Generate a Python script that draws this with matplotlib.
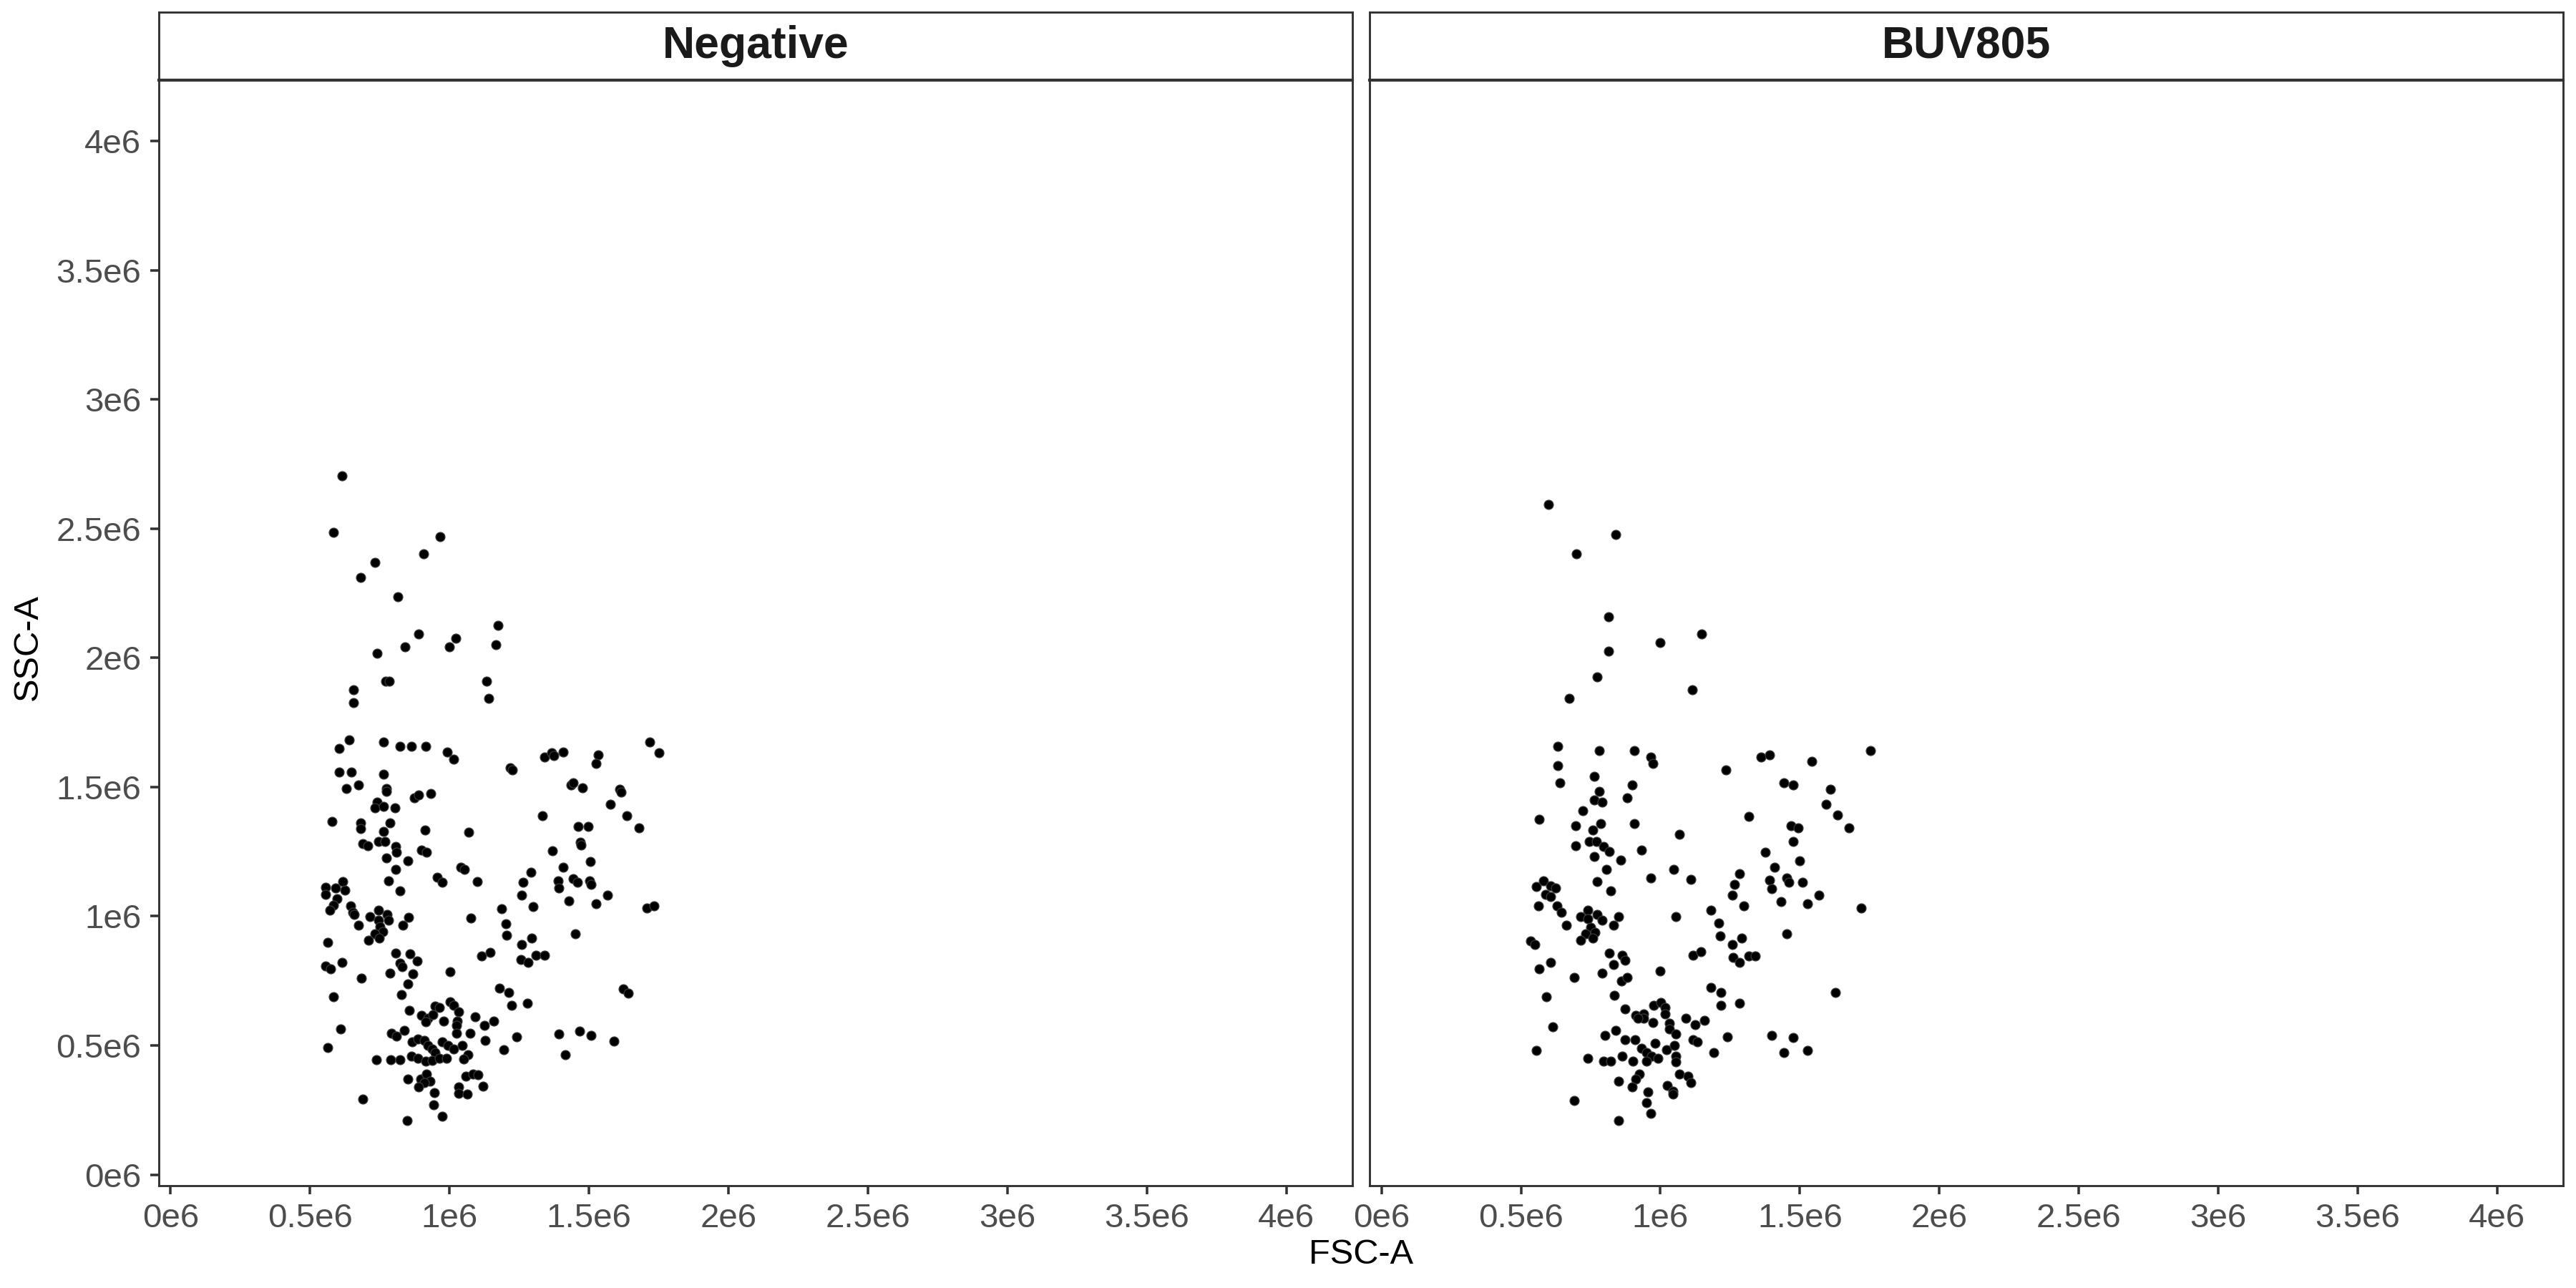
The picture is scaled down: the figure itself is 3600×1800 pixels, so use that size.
import matplotlib
matplotlib.use("Agg")
import matplotlib.pyplot as plt

plt.rcParams['font.family'] = ['Liberation Sans', 'DejaVu Sans']

# ---------------- data (values in units of 1e6) ----------------
panel_titles = ["Negative", "BUV805"]
tick_values = [0, 0.5e6, 1e6, 1.5e6, 2e6, 2.5e6, 3e6, 3.5e6, 4e6]
tick_labels = ["0e6", "0.5e6", "1e6", "1.5e6", "2e6", "2.5e6", "3e6", "3.5e6", "4e6"]
axis_limits = (-41943, 4236247)

neg_fsc = [
    0.615, 0.583, 0.966, 0.908, 0.732, 0.682, 0.816, 1.173, 0.890, 1.024, 0.841, 0.999, 1.167, 0.741,
    0.772, 0.784, 1.133, 0.657, 0.657, 1.141, 0.640, 0.606, 0.765, 0.822, 0.865, 0.914, 0.992, 1.016,
    1.217, 1.226, 1.341, 1.367, 1.375, 1.407, 1.534, 1.525, 1.717, 1.751, 0.606, 0.649, 0.765, 0.673,
    0.631, 0.774, 0.774, 0.740, 0.732, 0.764, 0.806, 0.875, 0.890, 0.934, 1.435, 1.443, 1.477, 1.610,
    1.616, 1.577, 1.333, 1.636,
    1.069, 1.462, 1.498, 1.679, 1.469, 1.473, 1.368, 1.506, 1.041, 1.053, 1.407, 1.291, 1.264, 1.258,
    1.299, 1.389, 1.393, 1.443, 1.458, 1.503, 1.508, 1.427, 1.525, 1.567, 1.709, 1.734, 1.100, 1.076,
    1.187, 1.203, 1.205, 1.258, 1.296, 1.116, 1.147, 1.257, 1.283, 1.309, 1.341, 1.450, 1.180, 1.213,
    1.222, 1.280, 1.622, 1.640, 1.393, 1.466, 1.508, 1.590, 1.416, 1.242, 1.195,
    0.578, 0.682, 0.682, 0.786, 0.765, 0.912, 0.690, 0.707, 0.747, 0.769, 0.807, 0.811, 0.773, 0.852,
    0.901, 0.918, 0.807, 0.781, 0.822, 0.957, 0.975, 0.555, 0.557, 0.591, 0.617, 0.624, 0.596, 0.585,
    0.572, 0.645, 0.653, 0.658, 0.673, 0.716, 0.745, 0.776, 0.781, 0.747, 0.750, 0.762, 0.734, 0.749,
    0.711, 0.833, 0.854, 0.564, 0.807, 0.858,
    0.555, 0.574, 0.615, 0.685, 0.786, 0.824, 0.830, 0.884, 0.869, 0.850, 0.828, 1.003, 0.585, 0.611,
    0.564, 0.856, 0.948, 0.965, 1.003, 1.014, 1.032, 0.901, 0.922, 0.941, 0.914, 0.978, 1.029, 1.025,
    1.091, 1.126, 1.160, 1.025, 1.074, 0.793, 0.811, 0.837, 1.127, 0.867, 0.888, 0.910, 0.922, 0.939,
    0.948, 0.974, 0.995, 1.016, 1.046, 1.067, 1.050, 0.739, 0.790, 0.824, 0.863, 0.888, 0.914, 0.939,
    0.965, 0.989, 0.852, 0.897, 0.918, 0.931, 0.910, 0.890, 0.946, 0.944, 0.974, 0.848, 0.690, 1.059,
    1.085, 1.102, 1.033, 1.033, 1.063, 1.121,
]
neg_ssc = [
    2.705, 2.485, 2.469, 2.401, 2.369, 2.310, 2.235, 2.126, 2.093, 2.075, 2.043, 2.042, 2.051, 2.017,
    1.910, 1.910, 1.910, 1.877, 1.826, 1.844, 1.683, 1.649, 1.674, 1.658, 1.658, 1.658, 1.634, 1.608,
    1.574, 1.566, 1.617, 1.632, 1.622, 1.634, 1.625, 1.591, 1.675, 1.632, 1.559, 1.559, 1.550, 1.508,
    1.493, 1.495, 1.482, 1.442, 1.418, 1.425, 1.418, 1.459, 1.468, 1.476, 1.509, 1.516, 1.497, 1.490,
    1.480, 1.433, 1.390, 1.390,
    1.325, 1.347, 1.347, 1.342, 1.287, 1.275, 1.253, 1.212, 1.190, 1.182, 1.190, 1.170, 1.130, 1.082,
    1.036, 1.137, 1.109, 1.144, 1.132, 1.137, 1.123, 1.058, 1.049, 1.082, 1.032, 1.039, 1.134, 0.994,
    1.028, 0.970, 0.927, 0.891, 0.916, 0.846, 0.861, 0.832, 0.820, 0.848, 0.848, 0.932, 0.722, 0.705,
    0.656, 0.663, 0.718, 0.703, 0.544, 0.556, 0.539, 0.516, 0.465, 0.532, 0.484,
    1.368, 1.360, 1.339, 1.360, 1.327, 1.334, 1.281, 1.272, 1.288, 1.290, 1.270, 1.247, 1.226, 1.213,
    1.256, 1.247, 1.182, 1.136, 1.099, 1.150, 1.131, 1.113, 1.085, 1.108, 1.133, 1.102, 1.067, 1.044,
    1.022, 1.039, 1.016, 1.007, 0.965, 0.998, 1.022, 1.007, 0.984, 0.984, 0.961, 0.939, 0.933, 0.915,
    0.908, 0.965, 0.995, 0.899, 0.856, 0.854,
    0.807, 0.796, 0.822, 0.760, 0.779, 0.818, 0.804, 0.827, 0.776, 0.739, 0.696, 0.785, 0.687, 0.564,
    0.493, 0.635, 0.653, 0.647, 0.670, 0.656, 0.631, 0.616, 0.605, 0.619, 0.592, 0.594, 0.594, 0.578,
    0.610, 0.578, 0.594, 0.548, 0.548, 0.548, 0.536, 0.557, 0.518, 0.515, 0.524, 0.518, 0.499, 0.485,
    0.472, 0.513, 0.499, 0.485, 0.499, 0.465, 0.446, 0.444, 0.444, 0.444, 0.458, 0.450, 0.439, 0.441,
    0.450, 0.449, 0.370, 0.370, 0.388, 0.361, 0.356, 0.338, 0.317, 0.271, 0.225, 0.210, 0.293, 0.382,
    0.389, 0.386, 0.338, 0.315, 0.312, 0.341,
]

buv_fsc = [
    0.598, 0.840, 0.698, 0.815, 1.148, 0.999, 0.815, 0.774, 1.115, 0.672, 0.631, 0.782, 0.907, 0.966,
    0.974, 1.360, 1.392, 1.543, 1.752, 1.234, 0.631, 0.639, 0.764, 0.898, 1.442, 1.476, 1.610, 0.782,
    0.764, 0.790, 0.882, 1.594, 0.723, 1.635,
    0.565, 1.317, 1.468, 1.493, 1.677, 1.476, 1.376, 1.500, 1.409, 1.392, 1.400, 1.452, 1.460, 1.509,
    1.433, 1.526, 1.568, 1.719, 1.452, 1.284, 1.266, 1.259, 1.300, 1.182, 1.209, 1.215, 1.292, 1.259,
    1.261, 1.284, 1.316, 1.339, 1.284, 1.627, 1.400, 1.476, 1.442, 1.526, 0.565, 0.606, 0.590, 0.614,
    0.556,
    0.697, 0.787, 0.907, 0.757, 0.697, 0.744, 0.770, 0.796, 0.817, 0.763, 0.857, 0.932, 1.067, 0.806,
    1.048, 0.774, 0.965, 1.108, 0.823, 0.556, 0.580, 0.606, 0.625, 0.589, 0.607, 0.563, 0.629, 0.646,
    0.663, 0.740, 0.714, 0.740, 0.774, 0.791, 0.849, 0.831, 0.749, 0.766, 0.731, 0.714, 0.757, 1.056,
    0.535, 0.549, 0.817, 0.864, 1.116, 1.146,
    0.873, 0.831, 0.690, 0.791, 1.000, 0.860, 0.881, 0.834, 1.182, 1.216, 1.216, 0.873, 0.975, 1.001,
    1.018, 1.016, 0.911, 0.939, 0.941, 0.920, 0.973, 1.031, 1.033, 1.056, 1.091, 1.125, 1.159, 0.802,
    0.840, 0.873, 0.908, 1.240, 1.116, 1.133, 0.982, 0.932, 0.949, 0.967, 1.022, 1.050, 1.191, 0.740,
    0.796, 0.821, 0.864, 0.902, 0.949, 0.991, 1.056, 1.056, 1.068, 1.099, 1.108, 0.924, 0.911, 0.849,
    0.898, 1.025, 1.044, 1.044, 0.954, 0.950, 0.965, 0.849, 0.690,
]
buv_ssc = [
    2.593, 2.477, 2.402, 2.159, 2.093, 2.059, 2.026, 1.927, 1.876, 1.843, 1.657, 1.641, 1.641, 1.616,
    1.591, 1.616, 1.624, 1.599, 1.641, 1.566, 1.583, 1.516, 1.541, 1.508, 1.516, 1.508, 1.491, 1.483,
    1.450, 1.441, 1.458, 1.433, 1.408, 1.392,
    1.375, 1.385, 1.350, 1.342, 1.342, 1.290, 1.248, 1.214, 1.190, 1.140, 1.106, 1.148, 1.131, 1.131,
    1.057, 1.048, 1.082, 1.032, 0.931, 1.165, 1.123, 1.082, 1.040, 1.023, 0.974, 0.924, 0.915, 0.890,
    0.841, 0.822, 0.847, 0.847, 0.664, 0.706, 0.539, 0.531, 0.472, 0.481, 0.797, 0.822, 0.688, 0.572,
    0.481,
    1.351, 1.357, 1.357, 1.334, 1.273, 1.290, 1.290, 1.270, 1.249, 1.231, 1.216, 1.256, 1.318, 1.182,
    1.182, 1.133, 1.148, 1.141, 1.097, 1.115, 1.136, 1.118, 1.108, 1.085, 1.076, 1.041, 1.041, 1.016,
    0.965, 1.022, 0.998, 0.991, 1.007, 0.984, 0.998, 0.965, 0.956, 0.938, 0.933, 0.908, 0.914, 0.998,
    0.903, 0.890, 0.856, 0.850, 0.850, 0.864,
    0.829, 0.813, 0.764, 0.781, 0.788, 0.748, 0.764, 0.693, 0.723, 0.705, 0.655, 0.640, 0.656, 0.665,
    0.647, 0.622, 0.615, 0.622, 0.604, 0.605, 0.589, 0.587, 0.564, 0.545, 0.605, 0.580, 0.596, 0.539,
    0.557, 0.522, 0.522, 0.532, 0.522, 0.513, 0.508, 0.490, 0.472, 0.458, 0.484, 0.499, 0.473, 0.449,
    0.439, 0.439, 0.458, 0.439, 0.439, 0.449, 0.458, 0.437, 0.389, 0.382, 0.356, 0.389, 0.370, 0.361,
    0.338, 0.345, 0.324, 0.312, 0.319, 0.278, 0.236, 0.210, 0.287,
]

x_label = "FSC-A"
y_label = "SSC-A"

# ---------------- figure ----------------
W, H = 3600, 1800
fig = plt.figure(figsize=(12, 6), dpi=300)

def fx(px):
    return px / W

def fy(py):
    return 1 - py / H

panel_left = [221.9, 1914.3]
panel_right = [1889.7, 3582.0]
plot_top, plot_bottom = 111.7, 1656.7
strip_top = 17.3

edge = '#333333'
lw_border = 0.7

datasets = [(neg_fsc, neg_ssc), (buv_fsc, buv_ssc)]

for i, (xs, ys) in enumerate(datasets):
    l, r = panel_left[i], panel_right[i]
    ax = fig.add_axes([fx(l), fy(plot_bottom), fx(r) - fx(l), fy(plot_top) - fy(plot_bottom)])
    ax.plot([v * 1e6 for v in xs], [v * 1e6 for v in ys], linestyle='none', marker='o',
            markersize=3.1, markerfacecolor='black', markeredgecolor='#3a3a3a', markeredgewidth=0.3)
    ax.set_xlim(*axis_limits)
    ax.set_ylim(*axis_limits)
    ax.set_xticks(tick_values)
    ax.set_xticklabels(tick_labels)
    ax.set_yticks(tick_values)
    if i == 0:
        ax.set_yticklabels(tick_labels)
        ax.tick_params(axis='y', length=2.9, width=0.85, color=edge, pad=3,
                       labelsize=11.4, labelcolor='#4D4D4D')
    else:
        ax.tick_params(axis='y', left=False, labelleft=False)
    ax.tick_params(axis='x', length=2.9, width=0.85, color=edge, pad=3,
                   labelsize=11.4, labelcolor='#4D4D4D')
    for sp in ax.spines.values():
        sp.set_color(edge)
        sp.set_linewidth(lw_border)
    ax.set_facecolor('white')

    # strip
    sax = fig.add_axes([fx(l), fy(plot_top), fx(r) - fx(l), fy(strip_top) - fy(plot_top)])
    sax.set_xticks([])
    sax.set_yticks([])
    sax.set_facecolor('white')
    for sp in sax.spines.values():
        sp.set_color(edge)
        sp.set_linewidth(lw_border)
    sax.spines['bottom'].set_linewidth(1.0)
    sax.text(0.5, 0.5, panel_titles[i], transform=sax.transAxes, ha='center', va='center',
             fontsize=15, fontweight='bold', color='#1A1A1A')

fig.text(fx((panel_left[0] + panel_right[1]) / 2), fy(1754), x_label, ha='center', va='center',
         fontsize=11.7, color='black')
fig.text(fx(39), fy(905), y_label, ha='center', va='center', rotation=90,
         fontsize=11.7, color='black')

fig.savefig('out.png', dpi=300, facecolor='white')
